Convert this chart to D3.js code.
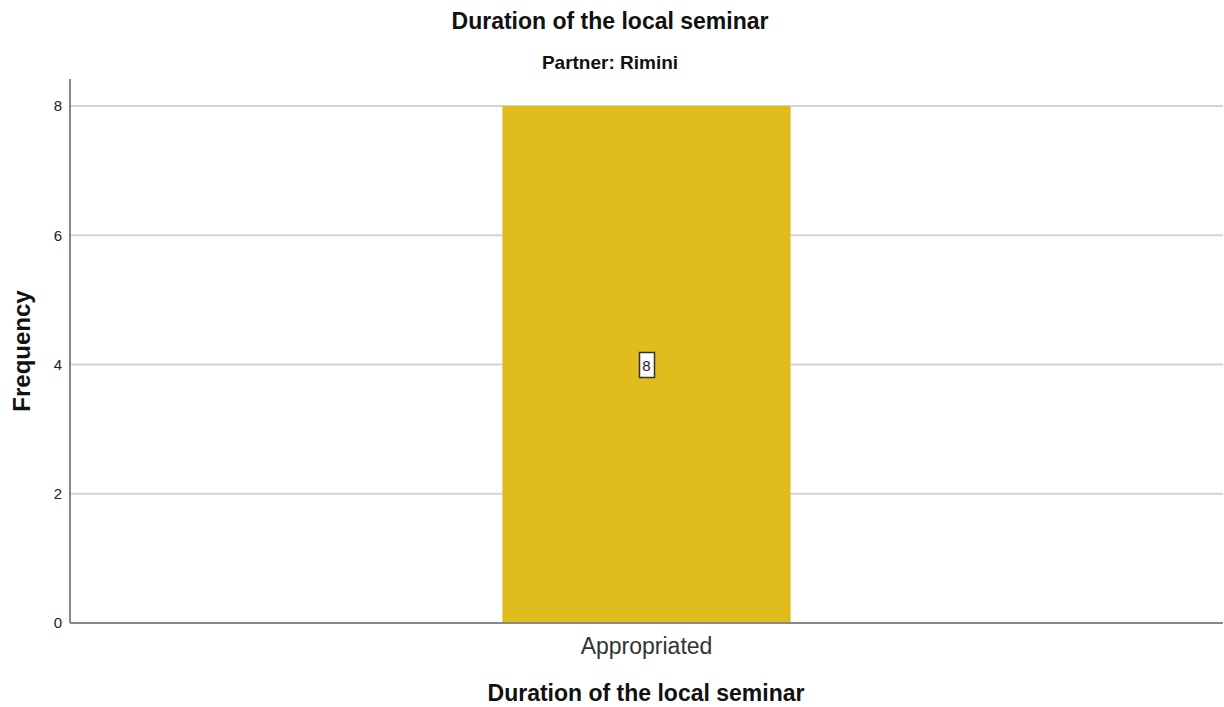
<!DOCTYPE html>
<html>
<head>
<meta charset="utf-8">
<script src="https://cdn.jsdelivr.net/npm/d3@7"></script>
<style>
  body { margin: 0; background: #fff; }
  text { font-family: "Liberation Sans", Arial, sans-serif; }
</style>
</head>
<body>
<svg id="chart"></svg>
<script>
// svg size
const width = 1224;
const height = 707;

// data
const categories = ["Appropriated"];
const frequencies = [8];
const yTicks = [0, 2, 4, 6, 8];

const margin = { top: 79, left: 70, right: 1, bottom: 84 };

const svg = d3.select("#chart")
    .attr("width", width)
    .attr("height", height);

// scales
const x = d3.scaleBand()
    .domain(categories)
    .range([margin.left, width - margin.right])
    .padding(0.6);

const y = d3.scaleLinear()
    .domain([0, 8])
    .range([623, 106]);

// grid lines
svg.append("g")
    .selectAll("line")
    .data(yTicks.filter(d => d > 0))
    .enter()
    .append("line")
    .attr("x1", margin.left)
    .attr("x2", width - margin.right)
    .attr("y1", d => y(d))
    .attr("y2", d => y(d))
    .attr("stroke", "#d4d4d4")
    .attr("stroke-width", 2);

// bars
svg.selectAll("rect.bar")
    .data(categories)
    .enter()
    .append("rect")
    .attr("class", "bar")
    .attr("x", d => x(d))
    .attr("y", (d, i) => y(frequencies[i]))
    .attr("width", x.bandwidth())
    .attr("height", (d, i) => y(0) - y(frequencies[i]))
    .attr("fill", "#e0bc1f");

// y axis
const yAxis = svg.append("g")
    .attr("transform", `translate(${margin.left},0)`)
    .call(d3.axisLeft(y).tickValues(yTicks).tickSize(0).tickPadding(8).tickFormat(d3.format("d")));
yAxis.select(".domain").remove();
yAxis.selectAll("text").attr("font-size", 15).attr("fill", "#222")
    .attr("font-family", "Liberation Sans, Arial, sans-serif");
svg.append("line")
    .attr("x1", margin.left).attr("x2", margin.left)
    .attr("y1", margin.top).attr("y2", y(0))
    .attr("stroke", "#888").attr("stroke-width", 2);

// x axis
const xAxis = svg.append("g")
    .attr("transform", `translate(0,${y(0)})`)
    .call(d3.axisBottom(x).tickSize(0).tickPadding(15));
xAxis.select(".domain").remove();
xAxis.selectAll("text").attr("font-size", 23).attr("fill", "#333")
    .attr("font-family", "Liberation Sans, Arial, sans-serif");
svg.append("line")
    .attr("x1", margin.left).attr("x2", width - margin.right)
    .attr("y1", y(0)).attr("y2", y(0))
    .attr("stroke", "#888").attr("stroke-width", 2);

// value labels
const label = svg.selectAll("g.vlabel")
    .data(categories)
    .enter()
    .append("g")
    .attr("class", "vlabel")
    .attr("transform", (d, i) => `translate(${x(d) + x.bandwidth() / 2},${y(frequencies[i] / 2)})`);
label.append("rect")
    .attr("x", -7).attr("y", -12)
    .attr("width", 15).attr("height", 25)
    .attr("fill", "#fff")
    .attr("stroke", "#333")
    .attr("stroke-width", 1.5);
label.append("text")
    .attr("text-anchor", "middle")
    .attr("y", 6)
    .attr("font-size", 15)
    .attr("fill", "#222")
    .text((d, i) => frequencies[i]);

// titles
svg.append("text")
    .attr("x", 610).attr("y", 29)
    .attr("text-anchor", "middle")
    .attr("font-size", 23)
    .attr("font-weight", "bold")
    .attr("fill", "#111")
    .text("Duration of the local seminar");

svg.append("text")
    .attr("x", 610).attr("y", 69)
    .attr("text-anchor", "middle")
    .attr("font-size", 19)
    .attr("font-weight", "bold")
    .attr("fill", "#111")
    .text("Partner: Rimini");

svg.append("text")
    .attr("x", 646).attr("y", 701)
    .attr("text-anchor", "middle")
    .attr("font-size", 23)
    .attr("font-weight", "bold")
    .attr("fill", "#111")
    .text("Duration of the local seminar");

svg.append("text")
    .attr("transform", "translate(30,351) rotate(-90)")
    .attr("text-anchor", "middle")
    .attr("font-size", 24)
    .attr("font-weight", "bold")
    .attr("fill", "#111")
    .text("Frequency");
</script>
</body>
</html>
